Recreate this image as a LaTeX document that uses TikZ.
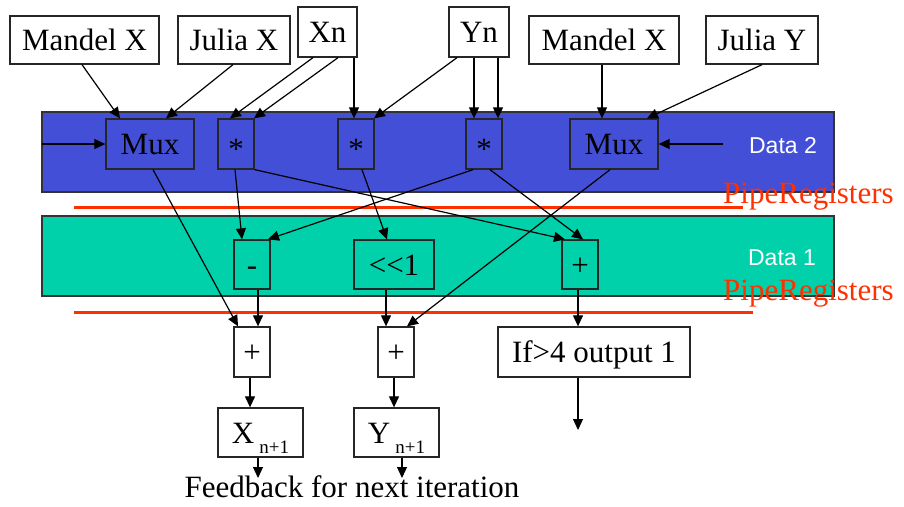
\documentclass[tikz,border=0pt]{standalone}
\usepackage{fontspec}
\setmainfont{Liberation Serif}
\newfontfamily\sansf{Liberation Sans}
\usetikzlibrary{arrows.meta}
\definecolor{bandblue}{RGB}{67,79,214}
\definecolor{bandgreen}{RGB}{0,209,170}
\definecolor{pipered}{RGB}{255,48,0}
\begin{document}
\begin{tikzpicture}[x=1pt,y=-1pt,
  box/.style={draw=black!85, line width=1.3pt, inner sep=0pt, text height=21pt, text depth=0pt,
    font=\fontsize{31}{36}\selectfont},
  topbox/.style={box, fill=white},
  con/.style={line width=1.2pt, -{Triangle[length=11pt,width=10pt]}},
  band/.style={draw=black!80, line width=1.5pt},
  pipeline/.style={draw=pipered, line width=3pt},
  pipetext/.style={text=pipered, font=\fontsize{31}{36}\selectfont, anchor=base west, inner sep=0pt},
  datatext/.style={text=white, font=\sansf\fontsize{23}{26}\selectfont, inner sep=0pt},
]
\useasboundingbox (0,0) rectangle (904,506);
% bands
\node[band, fill=bandblue, minimum width=792pt, minimum height=80pt, inner sep=0pt] (blue) at (438,152) {};
\node[band, fill=bandgreen, minimum width=792pt, minimum height=80pt, inner sep=0pt] (green) at (438,256) {};
% pipe register lines
\coordinate (p1a) at (74,207); \coordinate (p1b) at (743,207);
\coordinate (p2a) at (74,312); \coordinate (p2b) at (753,312);
\draw[pipeline] (p1a) -- (p1b);
\draw[pipeline] (p2a) -- (p2b);
\node[pipetext] (pt1) at (723,203) {PipeRegisters};
\node[pipetext] (pt2) at (723,300) {PipeRegisters};
\node[datatext] (d2) at (783,146) {Data 2};
\node[datatext] (d1) at (782,258) {Data 1};
% top input boxes
\node[topbox, minimum width=149pt, minimum height=48pt] (mandl) at (84.5,40) {Mandel X};
\node[topbox, minimum width=112pt, minimum height=48pt] (juliax) at (234,40) {Julia X};
\node[topbox, minimum width=59pt, minimum height=50pt] (xn) at (327.5,32) {Xn};
\node[topbox, minimum width=60pt, minimum height=50pt] (yn) at (479,32) {Yn};
\node[topbox, minimum width=150pt, minimum height=48pt] (mandr) at (604,40) {Mandel X};
\node[topbox, minimum width=112pt, minimum height=48pt] (juliay) at (762,40) {Julia Y};
% blue stage
\node[box, minimum width=88pt, minimum height=50pt] (muxl) at (150,144) {Mux};
\node[box, minimum width=36pt, minimum height=50pt] (m1) at (236,144) {\raisebox{-5pt}{*}};
\node[box, minimum width=36pt, minimum height=50pt] (m2) at (356,144) {\raisebox{-5pt}{*}};
\node[box, minimum width=36pt, minimum height=50pt] (m3) at (484,144) {\raisebox{-5pt}{*}};
\node[box, minimum width=88pt, minimum height=50pt] (muxr) at (614,144) {Mux};
% green stage
\node[box, minimum width=36pt, minimum height=49pt] (minus) at (252,264.5) {-};
\node[box, minimum width=80pt, minimum height=49pt] (shl) at (394,264.5) {<{}<1};
\node[box, minimum width=36pt, minimum height=49pt] (plusg) at (580,264.5) {+};
% output stage
\node[topbox, minimum width=36pt, minimum height=50pt] (plus1) at (252,352) {+};
\node[topbox, minimum width=36pt, minimum height=50pt] (plus2) at (396,352) {+};
\node[topbox, minimum width=192pt, minimum height=50pt] (ifb) at (594,352) {If>4 output 1};
\node[topbox, minimum width=85pt, minimum height=49pt] (xb) at (260.5,432.5) {X\,\raisebox{-10pt}{\fontsize{19}{19}\selectfont n+1}};
\node[topbox, minimum width=85pt, minimum height=49pt] (yb) at (396.5,432.5) {Y\,\raisebox{-10pt}{\fontsize{19}{19}\selectfont n+1}};
\node[inner sep=0pt, anchor=base, font=\fontsize{31}{36}\selectfont] (fb) at (352,497) {Feedback for next iteration};
% free ends
\coordinate (inl) at (42,144);
\coordinate (inr) at (723,144);
\coordinate (xout) at (258,478);
\coordinate (yout) at (402,478);
\coordinate (iout) at (578,430);
% connectors: top to blue stage
\draw[con] ([xshift=-2.5pt]mandl.south) -- ([xshift=-30pt]muxl.north);
\draw[con] ([xshift=-1pt]juliax.south) -- ([xshift=16pt]muxl.north);
\draw[con] ([xshift=-14.5pt]xn.south) -- ([xshift=-6pt]m1.north);
\draw[con] ([xshift=10.5pt]xn.south) -- ([xshift=18pt]m1.north);
\draw[con] ([xshift=26.5pt]xn.south) -- ([xshift=-2pt]m2.north);
\draw[con] ([xshift=-22pt]yn.south) -- ([xshift=18pt]m2.north);
\draw[con] ([xshift=-5pt]yn.south) -- ([xshift=-10pt]m3.north);
\draw[con] ([xshift=19pt]yn.south) -- ([xshift=14pt]m3.north);
\draw[con] ([xshift=-2pt]mandr.south) -- ([xshift=-12pt]muxr.north);
\draw[con] (juliay.south) -- ([xshift=33pt]muxr.north);
\draw[con] (inl) -- (muxl.west);
\draw[con] (inr) -- (muxr.east);
% blue to green / output
\draw[con] ([xshift=3pt]muxl.south) -- ([xshift=-14pt]plus1.north);
\draw[con] ([xshift=-1pt]m1.south) -- ([xshift=-10pt]minus.north);
\draw[con] (m1.south east) -- ([xshift=-15pt]plusg.north);
\draw[con] ([xshift=6pt]m2.south) -- ([xshift=-7pt]shl.north);
\draw[con] ([xshift=-11pt]m3.south) -- ([xshift=16pt]minus.north);
\draw[con] ([xshift=6pt]m3.south) -- ([xshift=3pt]plusg.north);
\draw[con] ([xshift=-4pt]muxr.south) -- ([xshift=11pt]plus2.north);
% green to output
\draw[con] ([xshift=6pt]minus.south) -- ([xshift=6pt]plus1.north);
\draw[con] ([xshift=-8pt]shl.south) -- ([xshift=-10pt]plus2.north);
\draw[con] ([xshift=-2pt]plusg.south) -- ([xshift=-16pt]ifb.north);
\draw[con] ([xshift=-2pt]plus1.south) -- ([xshift=-10.5pt]xb.north);
\draw[con] ([xshift=-2pt]plus2.south) -- ([xshift=-2.5pt]yb.north);
\draw[con] ([xshift=-2.5pt]xb.south) -- (xout);
\draw[con] ([xshift=5.5pt]yb.south) -- (yout);
\draw[con] ([xshift=-16pt]ifb.south) -- (iout);
\end{tikzpicture}
\end{document}
